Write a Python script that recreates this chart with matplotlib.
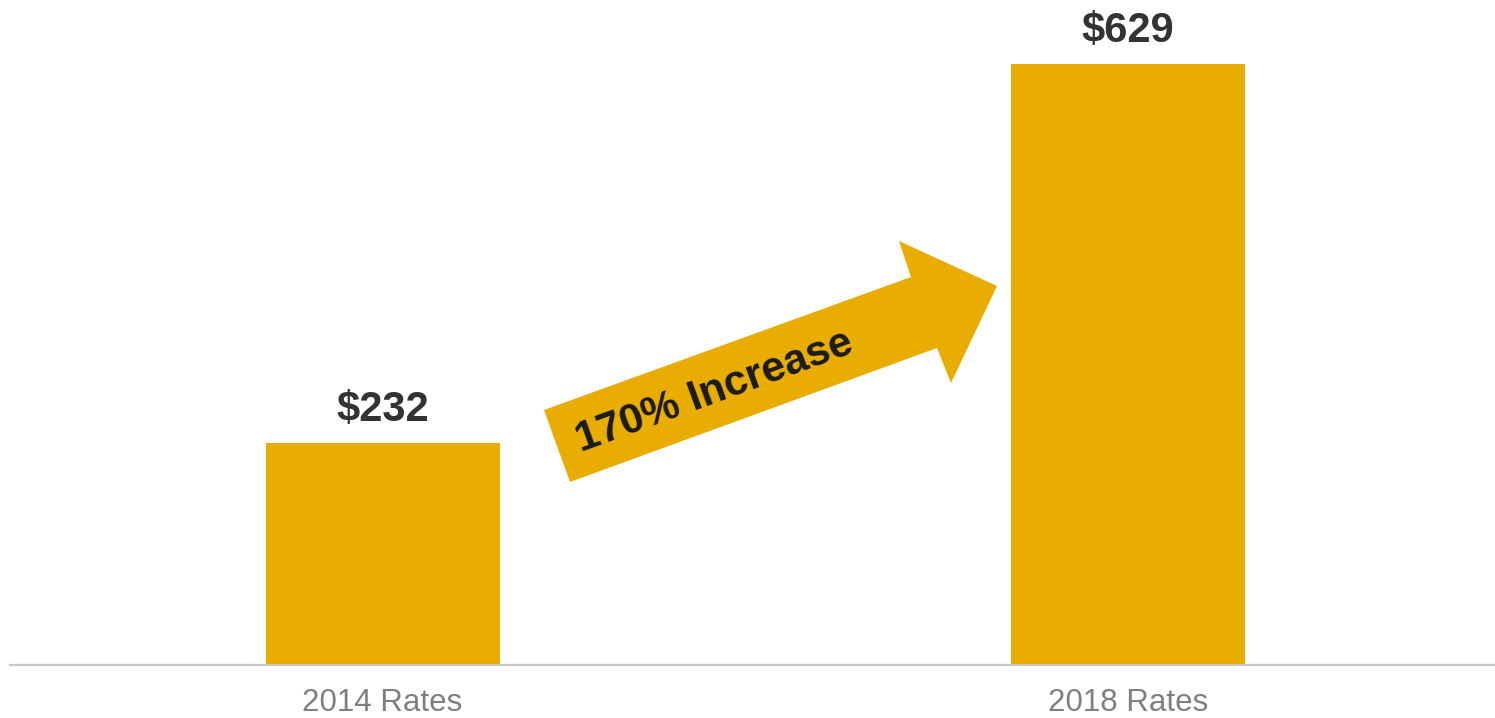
import matplotlib.pyplot as plt
from matplotlib.patches import Polygon
from matplotlib.transforms import Affine2D

plt.rcParams['font.family'] = ['Liberation Sans', 'DejaVu Sans']

categories = ['2014 Rates', '2018 Rates']
rates = [232, 629]
value_labels = ['$232', '$629']
arrow_label = '170% Increase'

W, H = 1495, 718
bar_color = '#E8AD00'

fig = plt.figure(figsize=(W / 100, H / 100), dpi=100)
ax = fig.add_axes([10 / W, 53 / H, 1485 / W, 665 / H])

x = range(len(categories))
ax.bar(x, rates, width=0.314, color=bar_color)
ax.set_xlim(-0.5, 1.493)
ax.set_ylim(0, 696)

for xi, v, lab in zip(x, rates, value_labels):
    ax.annotate(lab, (xi, v), xytext=(0, 9.5), textcoords='offset points',
                ha='center', va='bottom', fontsize=30, fontweight='bold',
                color='#333333')

ax.set_xticks(list(x))
ax.set_xticklabels(categories, fontsize=22.5, color='#7f7f7f')
ax.tick_params(axis='x', length=0, pad=16.5)
ax.set_yticks([])
for side in ['top', 'right', 'left']:
    ax.spines[side].set_visible(False)
ax.spines['bottom'].set_color('#c8c8c8')
ax.spines['bottom'].set_linewidth(1.6)

# arrow between the bars, laid out in figure pixels (top-down)
px = Affine2D().scale(1 / W, -1 / H).translate(0, 1) + fig.transFigure
arrow_pts = [(544, 410), (911, 277), (899, 241), (997, 286),
             (951, 383), (937, 348), (570, 482)]
fig.patches.append(Polygon(arrow_pts, closed=True, facecolor=bar_color,
                           edgecolor='none', transform=px))
fig.text(714, 392, arrow_label, transform=px, rotation=20,
         rotation_mode='anchor', ha='center', va='center',
         fontsize=30.5, fontweight='bold', color='#1a1a1a')

fig.savefig('out.png', dpi=100)
